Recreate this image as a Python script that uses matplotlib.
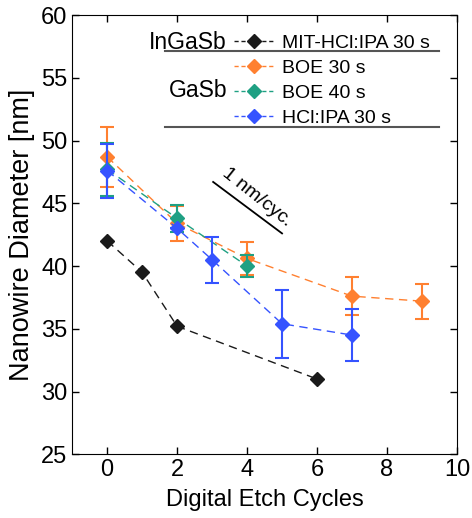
"""Nanowire diameter vs. digital etch cycles."""

import matplotlib
matplotlib.use("Agg")
import matplotlib.pyplot as plt
from matplotlib.lines import Line2D

plt.rcParams["font.family"] = ["Liberation Sans", "DejaVu Sans"]

# InGaSb, MIT-HCl:IPA 30 s
ingasb_x = [0, 1, 2, 6]
ingasb_y = [42.0, 39.5, 35.2, 31.0]

# GaSb, BOE 30 s
boe30_x = [0, 2, 4, 7, 9]
boe30_y = [48.7, 43.4, 40.6, 37.6, 37.2]
boe30_err = [2.4, 1.4, 1.3, 1.5, 1.4]

# GaSb, BOE 40 s
boe40_x = [0, 2, 4]
boe40_y = [47.7, 43.8, 40.0]
boe40_err = [2.1, 1.1, 0.9]

# GaSb, HCl:IPA 30 s
hcl_x = [0, 2, 3, 5, 7]
hcl_y = [47.6, 43.0, 40.5, 35.4, 34.5]
hcl_err = [2.15, 0.0, 1.85, 2.7, 2.05]

labels = ["MIT-HCl:IPA 30 s", "BOE 30 s", "BOE 40 s", "HCl:IPA 30 s"]
colors = ["#1a1a1a", "#ff8030", "#1fa083", "#3553ff"]

# guide line for the 1 nm/cyc. annotation
guide_x = [3.03, 5.0]
guide_y = [46.7, 42.6]

fig, ax = plt.subplots(figsize=(4.72, 5.18), dpi=100)
fig.subplots_adjust(left=0.153, right=0.968, top=0.971, bottom=0.123)

ms = 7.5
ax.plot(ingasb_x, ingasb_y, "D--", color=colors[0], ms=ms, lw=1, dashes=(6, 4), zorder=3)
for xs, ys, es, c, z in [
    (boe30_x, boe30_y, boe30_err, colors[1], 3),
    (boe40_x, boe40_y, boe40_err, colors[2], 4),
    (hcl_x, hcl_y, hcl_err, colors[3], 5),
]:
    ax.errorbar(xs, ys, yerr=es, fmt="D--", color=c, ms=ms, lw=1, dashes=(6, 4),
                elinewidth=1.5, capsize=5, capthick=1.5, zorder=z)

ax.plot(guide_x, guide_y, color="black", lw=1.3)
ax.text(4.28, 45.5, "1 nm/cyc.", rotation=-38.5, fontsize=14,
        ha="center", va="center", rotation_mode="anchor")

ax.set_xlim(-1, 10)
ax.set_ylim(25, 60)
ax.set_xticks(range(0, 11, 2))
ax.set_yticks(range(25, 61, 5))
ax.tick_params(direction="in", top=True, right=True, labelsize=17, length=5, width=1)
ax.set_xlabel("Digital Etch Cycles", fontsize=17, labelpad=6)
ax.set_ylabel("Nanowire Diameter [nm]", fontsize=19.5, labelpad=4)

# custom legend with group labels and separator lines
handles = [Line2D([], [], color=c, marker="D", ms=ms, ls="--", lw=1, dashes=(3, 2))
           for c in colors]
ax.legend(handles, labels, loc="upper left", bbox_to_anchor=(0.421, 0.957),
          frameon=False, fontsize=14, handlelength=2.0, handletextpad=0.45,
          labelspacing=0.38, borderpad=0, borderaxespad=0)
ax.text(0.4026, 0.9385, "InGaSb", transform=ax.transAxes, fontsize=16.5,
        ha="right", va="center")
ax.text(0.4026, 0.829, "GaSb", transform=ax.transAxes, fontsize=16.5,
        ha="right", va="center")
ax.plot([0.242, 0.953], [0.919, 0.919], transform=ax.transAxes, color="#555555", lw=1.5)
ax.plot([0.242, 0.953], [0.746, 0.746], transform=ax.transAxes, color="#555555", lw=1.5)

fig.savefig("out.png", dpi=100)
